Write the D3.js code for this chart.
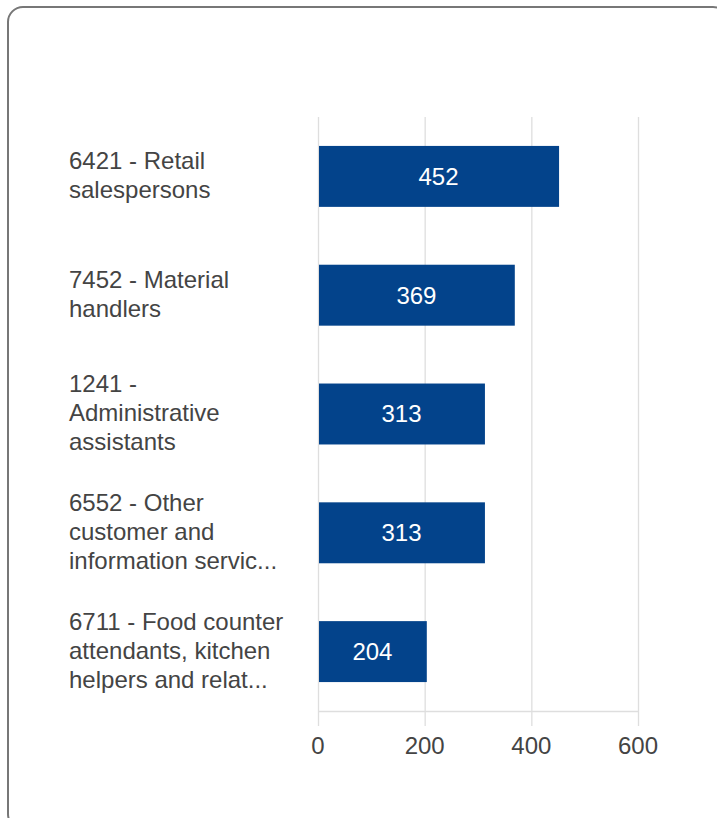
<!DOCTYPE html>
<html>
<head>
<meta charset="utf-8">
<script src="https://cdn.jsdelivr.net/npm/d3@7"></script>
<style>
  html, body { margin: 0; padding: 0; background: #fff; overflow: hidden; }
  svg { display: block; font-family: "Liberation Sans", Arial, sans-serif; }
</style>
</head>
<body>
<svg id="chart" width="717" height="818"></svg>
<script>
// ---- data ----
const categories = [
  "6421 - Retail salespersons",
  "7452 - Material handlers",
  "1241 - Administrative assistants",
  "6552 - Other customer and information servic...",
  "6711 - Food counter attendants, kitchen helpers and relat..."
];
const labelLines = [
  ["6421 - Retail", "salespersons"],
  ["7452 - Material", "handlers"],
  ["1241 -", "Administrative", "assistants"],
  ["6552 - Other", "customer and", "information servic..."],
  ["6711 - Food counter", "attendants, kitchen", "helpers and relat..."]
];
const values = [452, 369, 313, 313, 204];
const tickValues = [0, 200, 400, 600];

// ---- layout ----
const svg = d3.select("#chart");
const plot = { left: 318, right: 638, top: 117, bottom: 711 };
const barColor = "#03438b";
const gridColor = "#dedede";

// card border
svg.append("rect")
  .attr("x", 8).attr("y", 7)
  .attr("width", 720).attr("height", 822)
  .attr("rx", 15).attr("ry", 15)
  .attr("fill", "#fff")
  .attr("stroke", "#777").attr("stroke-width", 2);

const x = d3.scaleLinear().domain([0, 600]).range([plot.left, plot.right]);
const y = d3.scaleBand().domain(categories).range([plot.top, plot.bottom]).paddingInner(0.487).paddingOuter(0.2435);

// gridlines
svg.append("g").selectAll("line").data(tickValues).join("line")
  .attr("x1", d => x(d) + 0.5).attr("x2", d => x(d) + 0.5)
  .attr("y1", plot.top).attr("y2", plot.bottom + 15)
  .attr("stroke", gridColor).attr("stroke-width", 1.3);

// horizontal axis baseline
svg.append("line")
  .attr("x1", x(0)).attr("x2", x(600))
  .attr("y1", plot.bottom + 0.5).attr("y2", plot.bottom + 0.5)
  .attr("stroke", gridColor).attr("stroke-width", 1.3);

// bars
svg.append("g").selectAll("rect").data(values).join("rect")
  .attr("x", x(0) + 1)
  .attr("y", (d, i) => y(categories[i]))
  .attr("width", d => x(d) - x(0) - 1)
  .attr("height", y.bandwidth())
  .attr("fill", barColor);

// value labels
svg.append("g").selectAll("text").data(values).join("text")
  .attr("x", d => (x(0) + x(d)) / 2)
  .attr("y", (d, i) => y(categories[i]) + y.bandwidth() / 2)
  .attr("dy", "0.35em")
  .attr("text-anchor", "middle")
  .attr("fill", "#fff")
  .attr("font-size", 24)
  .text(d => d);

// category labels
const lineH = 29;
const lab = svg.append("g").selectAll("text").data(labelLines).join("text")
  .attr("fill", "#444")
  .attr("font-size", 24)
  .attr("text-anchor", "start");
lab.each(function(lines, i) {
  const cy = y(categories[i]) + y.bandwidth() / 2;
  const y0 = cy - (lines.length - 1) * lineH / 2 - 1;
  d3.select(this).selectAll("tspan").data(lines).join("tspan")
    .attr("x", 69)
    .attr("y", (l, j) => y0 + j * lineH)
    .attr("dy", "0.35em")
    .text(l => l);
});

// tick labels
svg.append("g").selectAll("text").data(tickValues).join("text")
  .attr("x", d => x(d))
  .attr("y", 746)
  .attr("dy", "0.35em")
  .attr("text-anchor", "middle")
  .attr("fill", "#444")
  .attr("font-size", 24)
  .text(d => d);
</script>
</body>
</html>
